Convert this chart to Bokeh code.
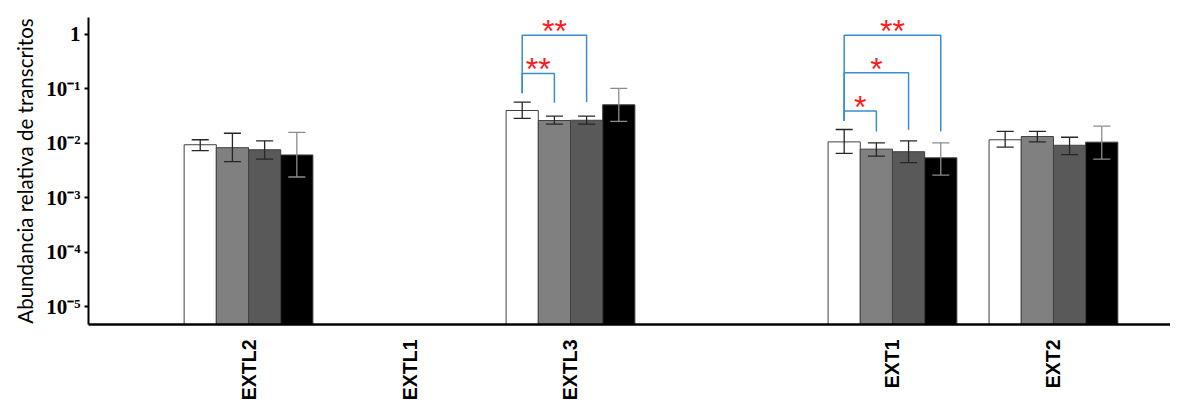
import math
import numpy as np
from bokeh.plotting import figure
from bokeh.models import ColumnDataSource, FixedTicker, Range1d
from bokeh.core.properties import value
from bokeh.embed import file_html
from bokeh.resources import INLINE

# ---------------- data ----------------
genes = ["EXTL2", "EXTL1", "EXTL3", "EXT1", "EXT2"]
gene_pos = [0, 1, 2, 4, 5]

# four conditions (white, light grey, dark grey, black); None = no bar
s1_mean = [0.0094, None, 0.040, 0.0106, 0.0116]
s1_hi = [0.0116, None, 0.057, 0.0179, 0.0165]
s1_lo = [0.0073, None, 0.0286, 0.0065, 0.0085]

s2_mean = [0.0083, None, 0.0262, 0.0078, 0.0133]
s2_hi = [0.0153, None, 0.0315, 0.0102, 0.0165]
s2_lo = [0.0046, None, 0.0224, 0.0058, 0.0106]

s3_mean = [0.0076, None, 0.0265, 0.0070, 0.0092]
s3_hi = [0.0111, None, 0.0315, 0.0111, 0.0129]
s3_lo = [0.0051, None, 0.0224, 0.0044, 0.0062]

s4_mean = [0.0061, None, 0.051, 0.0054, 0.0105]
s4_hi = [0.0158, None, 0.1017, 0.0102, 0.0206]
s4_lo = [0.0024, None, 0.0252, 0.0026, 0.0051]

tick_values = [1e-5, 1e-4, 1e-3, 1e-2, 1e-1, 1]
tick_labels = ["10⁻⁵", "10⁻⁴", "10⁻³", "10⁻²", "10⁻¹", "1"]

# significance brackets (from bar 0 of the gene to bar br_to)
br_gene = ["EXTL3", "EXTL3", "EXT1", "EXT1", "EXT1"]
br_to = [1, 2, 1, 2, 3]
br_level = [0.192, 0.97, 0.039, 0.198, 0.97]
br_left_end = [0.083, 0.083, 0.026, 0.026, 0.026]
br_right_end = [0.0555, 0.057, 0.0165, 0.0177, 0.0165]
br_label = ["**", "**", "*", "*", "**"]

# ---------------- styling ----------------
series_colors = ["#ffffff", "#808080", "#595959", "#000000"]
error_colors = ["#262626", "#262626", "#262626", "#8c8c8c"]
bar_w = 0.2
cap_half = 0.053
offsets = (np.arange(4) - 1.5) * bar_w

p = figure(frame_width=1082, frame_height=307, output_backend="svg",
           toolbar_location=None,
           y_axis_type="log", x_range=Range1d(-0.994, 5.727),
           y_range=Range1d(4.67e-6, 2.05),
           min_border_left=88, min_border_right=0, min_border_top=17,
           min_border_bottom=80)
p.outline_line_color = None
p.xgrid.visible = False
p.ygrid.visible = False

means = [s1_mean, s2_mean, s3_mean, s4_mean]
his = [s1_hi, s2_hi, s3_hi, s4_hi]
los = [s1_lo, s2_lo, s3_lo, s4_lo]

for k in range(4):
    xs, tops, hi, lo = [], [], [], []
    for g, pos in enumerate(gene_pos):
        if means[k][g] is None:
            continue
        xs.append(pos + offsets[k])
        tops.append(means[k][g])
        hi.append(his[k][g])
        lo.append(los[k][g])
    xs = np.array(xs)
    src = ColumnDataSource(dict(x=xs, top=tops, hi=hi, lo=lo,
                                xl=xs - cap_half, xr=xs + cap_half))
    p.vbar(x="x", top="top", bottom=1e-7, width=bar_w, source=src,
           fill_color=series_colors[k], line_color="#404040", line_width=1)
    p.segment(x0="x", x1="x", y0="lo", y1="hi", source=src,
              line_color=error_colors[k], line_width=1.3)
    p.segment(x0="xl", x1="xr", y0="hi", y1="hi", source=src,
              line_color=error_colors[k], line_width=1.3)
    p.segment(x0="xl", x1="xr", y0="lo", y1="lo", source=src,
              line_color=error_colors[k], line_width=1.3)

# brackets
bxs, bys, tx, ty = [], [], [], []
for i in range(len(br_gene)):
    gp = gene_pos[genes.index(br_gene[i])]
    xl = gp + offsets[0]
    xr = gp + offsets[br_to[i]]
    bxs.append([xl, xl, xr, xr])
    bys.append([br_left_end[i], br_level[i], br_level[i], br_right_end[i]])
    tx.append((xl + xr) / 2)
    ty.append(br_level[i])
p.multi_line(xs=bxs, ys=bys, line_color="#3a8dd0", line_width=1.5)
p.text(x=tx, y=ty, text=br_label, text_color="#ff1a1a",
       text_font=value("Liberation Sans"), text_font_size="32px",
       text_align="center", text_baseline="middle", y_offset=-4)

# axes
xa = p.xaxis[0]
xa.ticker = FixedTicker(ticks=gene_pos)
xa.major_label_overrides = {pos: g for pos, g in zip(gene_pos, genes)}
xa.major_label_orientation = math.pi / 2
xa.major_label_text_font = "Liberation Sans"
xa.major_label_text_font_style = "bold"
xa.major_label_text_font_size = "19.5px"
xa.major_label_text_color = "black"
xa.major_label_standoff = 9
xa.major_tick_line_color = None
xa.minor_tick_line_color = None
xa.axis_line_width = 2.5
xa.axis_line_color = "black"

ya = p.yaxis[0]
ya.ticker = FixedTicker(ticks=tick_values)
ya.major_label_overrides = {v: t for v, t in zip(tick_values, tick_labels)}
ya.major_label_text_font = "Liberation Serif"
ya.major_label_text_font_style = "bold"
ya.major_label_text_font_size = "21px"
ya.major_label_text_color = "black"
ya.major_label_standoff = 4
ya.major_tick_out = 4
ya.major_tick_in = 0
ya.major_tick_line_width = 2
ya.minor_tick_line_color = None
ya.axis_line_width = 2
ya.axis_line_color = "black"
ya.axis_label = "Abundancia relativa de transcritos"
ya.axis_label_text_font = "Lato"
ya.axis_label_text_font_style = "normal"
ya.axis_label_text_font_size = "20.5px"
ya.axis_label_text_color = "black"
ya.axis_label_standoff = 6

open("out.html", "w").write(file_html(p, INLINE))
